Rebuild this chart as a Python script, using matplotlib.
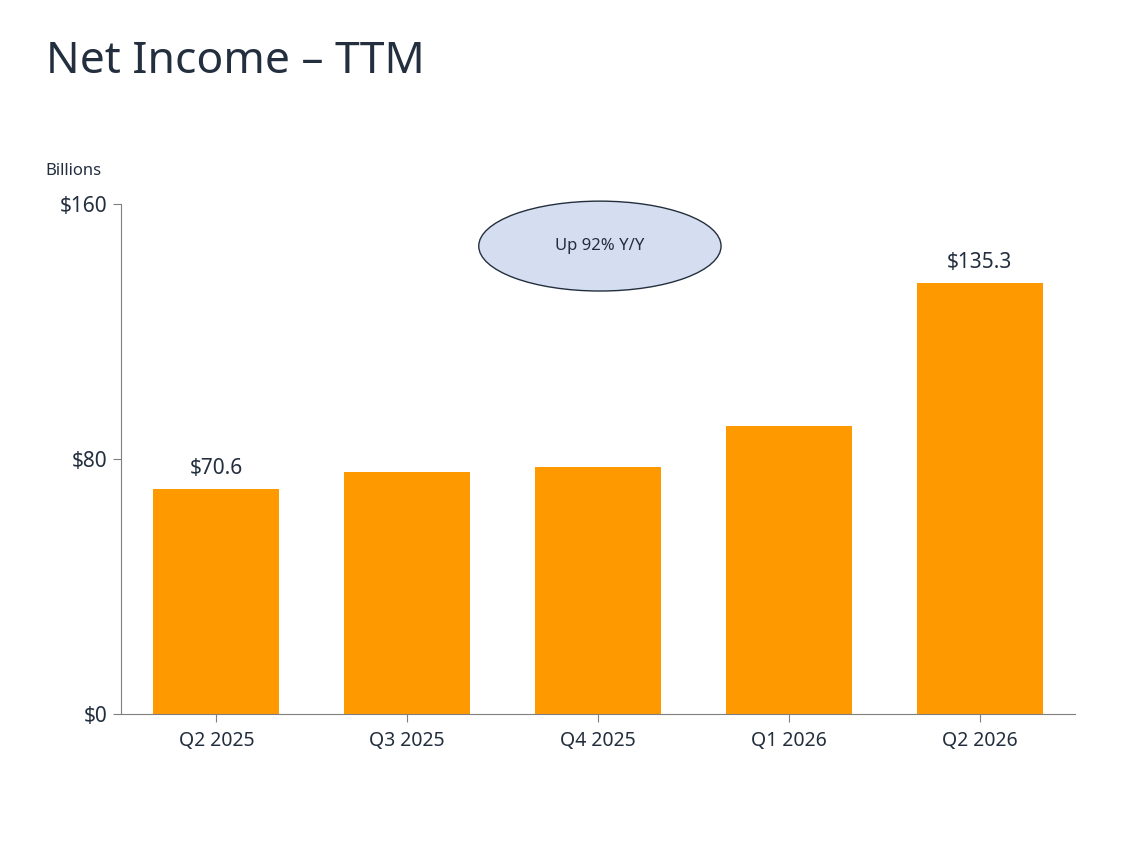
import matplotlib.pyplot as plt
from matplotlib.patches import Ellipse

plt.rcParams['font.family'] = ['Noto Sans', 'DejaVu Sans']

quarters = ['Q2 2025', 'Q3 2025', 'Q4 2025', 'Q1 2026', 'Q2 2026']
net_income = [70.6, 76.0, 77.5, 90.4, 135.3]
labelled = {0: '$70.6', 4: '$135.3'}
yticks = [0, 80, 160]

dark = '#232F3E'
orange = '#FF9900'

fig = plt.figure(figsize=(11.4, 8.44), dpi=100)
ax = fig.add_axes([121/1140, 1 - 714/844, 954/1140, 510/844])

x = range(len(quarters))
ax.bar(x, net_income, width=0.66, color=orange)
for i, txt in labelled.items():
    ax.text(i, net_income[i] + 3, txt, ha='center', va='bottom', fontsize=15, color=dark)

ax.set_xlim(-0.5, 4.5)
ax.set_ylim(0, 160)
ax.set_yticks(yticks)
ax.set_yticklabels(['$' + str(t) for t in yticks], fontsize=15, color=dark)
ax.set_xticks(list(x))
ax.set_xticklabels(quarters, fontsize=14, color=dark)
for s in ['top', 'right']:
    ax.spines[s].set_visible(False)
for s in ['left', 'bottom']:
    ax.spines[s].set_color('#7f7f7f')
ax.tick_params(axis='y', length=6, color='#7f7f7f', pad=4)
ax.tick_params(axis='x', length=6, color='#7f7f7f', pad=6, direction='out')

ell = Ellipse((2.01, 146.8), 1.27, 28.2, facecolor='#D5DEF0', edgecolor=dark, linewidth=1, clip_on=False)
ax.add_patch(ell)
ax.text(2.01, 146.8, 'Up 92% Y/Y', ha='center', va='center', fontsize=12, color=dark)

fig.text(46/1140, 1 - 62/844, 'Net Income – TTM', fontsize=32, fontweight='bold', color=dark, va='center')
fig.text(45/1140, 1 - 171/844, 'Billions', fontsize=12, color=dark, va='center')

fig.savefig('out.png', dpi=100)
